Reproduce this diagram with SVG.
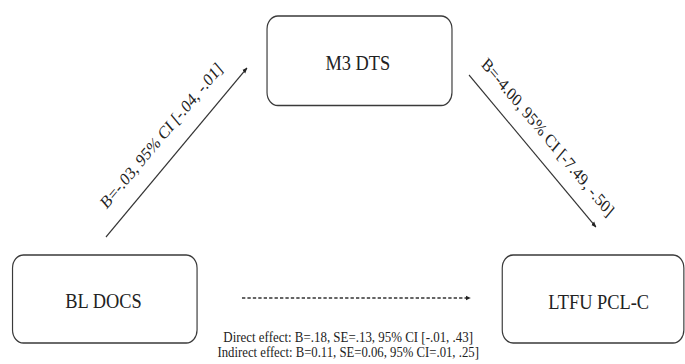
<svg xmlns="http://www.w3.org/2000/svg" width="685" height="364" viewBox="0 0 685 364">
  <style>
    .box { fill: #ffffff; stroke: #3a3a3a; stroke-width: 1.4; }
    text { font-family: 'Liberation Serif', 'DejaVu Serif', serif; fill: #222222; text-anchor: middle; }
    .lbl { font-size: 22px; }
    .edge { font-size: 18px; }
    .note { font-size: 14px; }
    .conn { stroke: #333333; stroke-width: 1.3; fill: none; }
    .dash { stroke-dasharray: 4 2.5; }
  </style>
  <defs>
    <marker id="arrow" viewBox="0 0 10 10" refX="9" refY="5" markerWidth="6" markerHeight="6" orient="auto" markerUnits="userSpaceOnUse">
      <path d="M0,1 L10,5 L0,9 Z" fill="#222222"/>
    </marker>
  </defs>
  <rect width="685" height="364" fill="#ffffff"/>
  <g transform="scale(0.835,1)">
    <g id="connectors">
      <line class="conn" x1="126.9" y1="237" x2="295.8" y2="68" marker-end="url(#arrow)"/>
      <line class="conn" x1="561.7" y1="75" x2="713.7" y2="227" marker-end="url(#arrow)"/>
      <line class="conn dash" x1="289.8" y1="298" x2="563" y2="298" marker-end="url(#arrow)"/>
      <text class="edge" transform="translate(197.5,139.8) rotate(-45)">B=-.03, 95% CI [-.04, -.01]</text>
      <text class="edge" transform="translate(652,141.5) rotate(45)">B=-4.00, 95% CI [-7.49, -.50]</text>
      <text class="note" x="417" y="342" textLength="299" lengthAdjust="spacingAndGlyphs">Direct effect: B=.18, SE=.13, 95% CI [-.01, .43]</text>
      <text class="note" x="417" y="357" textLength="313" lengthAdjust="spacingAndGlyphs">Indirect effect: B=0.11, SE=0.06, 95% CI=.01, .25]</text>
    </g>
    <g id="node-m3dts">
      <rect class="box" x="319.8" y="16" width="221.5" height="89.5" rx="13" ry="13"/>
      <text class="lbl" x="428.5" y="70">M3 DTS</text>
    </g>
    <g id="node-bldocs">
      <rect class="box" x="15" y="255" width="221" height="88" rx="13" ry="13"/>
      <text class="lbl" x="124" y="308.5">BL DOCS</text>
    </g>
    <g id="node-ltfu">
      <rect class="box" x="601.5" y="255" width="217.5" height="88" rx="13" ry="13"/>
      <text class="lbl" x="717" y="309">LTFU PCL-C</text>
    </g>
  </g>
</svg>
